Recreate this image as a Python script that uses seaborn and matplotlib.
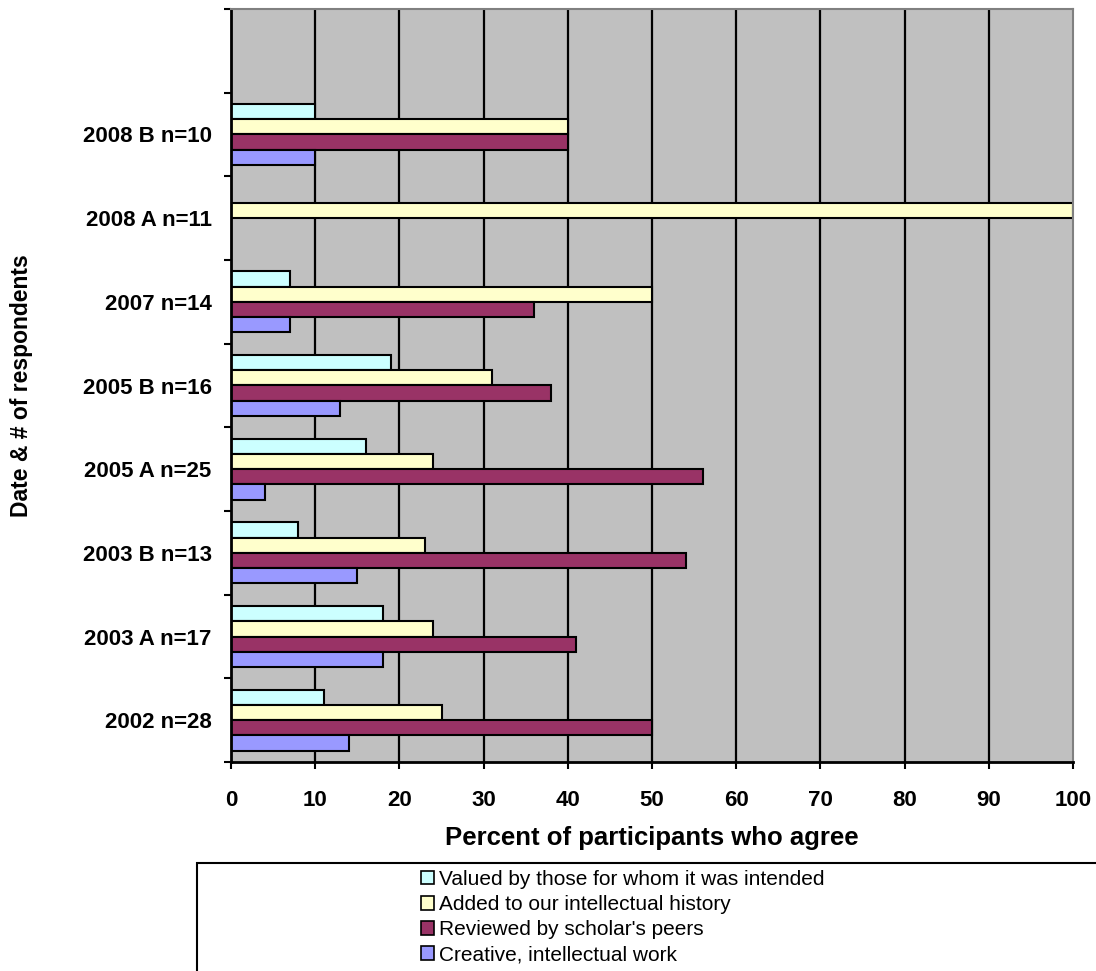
import numpy as np
import pandas as pd
import matplotlib
matplotlib.use("Agg")
import matplotlib.pyplot as plt
from matplotlib.patches import Rectangle, Patch
import seaborn as sns

# 数据（从上到下，顶部留一个空档）
groups = [" ", "2008 B n=10", "2008 A n=11", "2007 n=14", "2005 B n=16",
          "2005 A n=25", "2003 B n=13", "2003 A n=17", "2002 n=28"]
data_groups = groups[1:]
series = ["Valued by those for whom it was intended",
          "Added to our intellectual history",
          "Reviewed by scholar's peers",
          "Creative, intellectual work"]
valued = [10, 0, 7, 19, 16, 8, 18, 11]
added = [40, 100, 50, 31, 24, 23, 24, 25]
reviewed = [40, 0, 36, 38, 56, 54, 41, 50]
creative = [10, 0, 7, 13, 4, 15, 18, 14]
colors = ["#CCFFFF", "#FFFFCC", "#993366", "#9999FF"]

rows = []
for name, vals in zip(series, [valued, added, reviewed, creative]):
    for g, v in zip(data_groups, vals):
        rows.append({"group": g, "series": name, "value": v})
df = pd.DataFrame(rows)

sns.set_style("white")
plt.rcParams['font.family'] = ['Liberation Sans', 'DejaVu Sans']
plt.rcParams['text.color'] = 'black'
plt.rcParams['axes.labelcolor'] = 'black'
plt.rcParams['xtick.color'] = 'black'
plt.rcParams['ytick.color'] = 'black'

fig = plt.figure(figsize=(10.96, 9.71), dpi=100)
ax = fig.add_axes([231 / 1096, 1 - 762 / 971, (1073 - 231) / 1096, (762 - 9) / 971])
ax.set_facecolor("#C0C0C0")

sns.barplot(data=df, x="value", y="group", hue="series", order=groups,
            hue_order=series, palette=colors, orient="h", width=0.73,
            edgecolor="black", linewidth=1.5, saturation=1, ax=ax, legend=False)

ax.set_xlim(0, 100)
ax.set_ylim(len(groups) - 0.5, -0.5)
ax.set_axisbelow(True)
for xv in range(10, 100, 10):
    ax.axvline(xv, color="black", lw=1.6, zorder=0.5)

# 刻度
ax.set_xticks(np.arange(0, 101, 10))
ax.tick_params(axis="x", direction="out", length=5, width=1.5, pad=15,
               labelsize=16, bottom=True)
for lab in ax.get_xticklabels():
    lab.set_fontweight("bold")
ax.set_yticks(np.arange(-0.5, len(groups), 1))
ax.set_yticklabels([])
ax.set_yticks(np.arange(len(groups)), minor=True)
ax.set_yticklabels(groups, minor=True, fontsize=16, fontweight="bold")
ax.tick_params(axis="y", which="major", direction="out", length=5, width=1.5, left=True)
ax.tick_params(axis="y", which="minor", length=0, pad=14)

for side in ["left", "bottom"]:
    ax.spines[side].set_color("black")
    ax.spines[side].set_linewidth(2)
for side in ["top", "right"]:
    ax.spines[side].set_color("#808080")
    ax.spines[side].set_linewidth(1.5)

ax.set_xlabel("Percent of participants who agree", fontsize=18.5,
              fontweight="bold", labelpad=11)
ax.set_ylabel("Date & # of respondents", fontsize=16.5, fontweight="bold")
ax.yaxis.set_label_coords(-(231 - 33) / (1073 - 231), 0.5)

# 图例框
fig.patches.append(Rectangle((197 / 1096, -0.05), 1.0, 1 - 863 / 971 + 0.05,
                             transform=fig.transFigure, fill=False,
                             edgecolor="black", lw=1.5))
handles = [Patch(facecolor=c, edgecolor="black", lw=1.2) for c in colors]
fig.legend(handles, series, loc="upper left",
           bbox_to_anchor=(421 / 1096, 1 - 870 / 971), frameon=False,
           fontsize=15, handlelength=0.63, handleheight=0.63, handletextpad=0.22,
           labelspacing=0.29, borderpad=0, borderaxespad=0)

plt.savefig("out.png", dpi=100)
plt.close()
